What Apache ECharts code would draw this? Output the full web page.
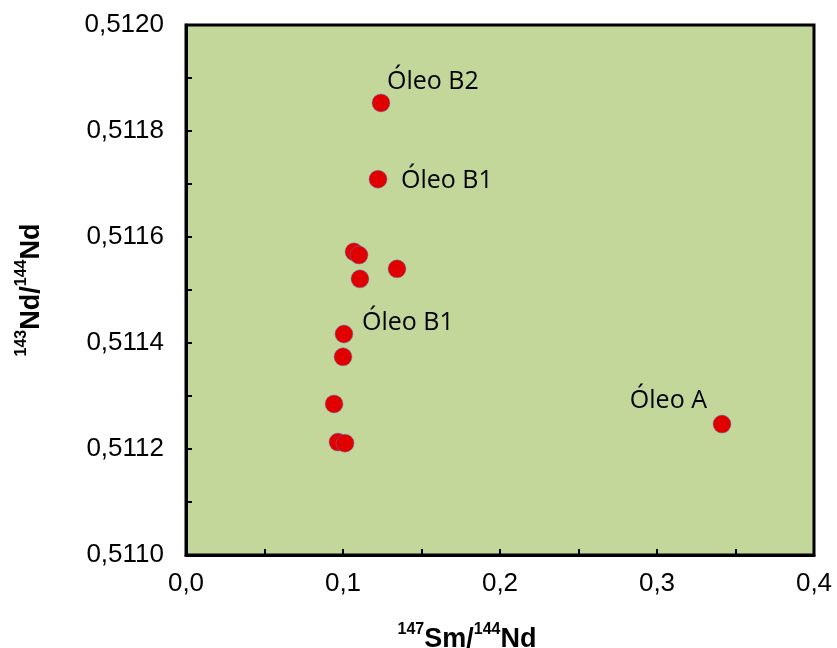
<!DOCTYPE html>
<html>
<head>
<meta charset="utf-8">
<script src="https://cdn.jsdelivr.net/npm/echarts@6/dist/echarts.min.js"></script>
<style>
  html, body { margin: 0; padding: 0; background: #fff; }
  #chart { width: 837px; height: 648px; }
</style>
</head>
<body>
<div id="chart"></div>
<script>
// 147Sm/144Nd vs 143Nd/144Nd
const smNd = [0.1242, 0.1223, 0.1070, 0.1102, 0.1108, 0.1344, 0.1006, 0.1000, 0.0943, 0.0968, 0.1013, 0.3414];
const ndNd = [0.511853, 0.511709, 0.511572, 0.511566, 0.511521, 0.511540, 0.511417, 0.511374, 0.511285, 0.511213, 0.511211, 0.511247];
const pointNames = ["Óleo B2", "Óleo B1", "", "", "", "", "Óleo B1", "", "", "", "", "Óleo A"];

const xTicks = [0.0, 0.1, 0.2, 0.3, 0.4];
const yTicks = [0.5110, 0.5112, 0.5114, 0.5116, 0.5118, 0.5120];

// where each label sits next to its point
const labelPlace = {
  0: { align: "left", offset: [6, -21] },
  1: { align: "left", offset: [23, 2] },
  6: { align: "left", offset: [18, -11] },
  11: { align: "right", offset: [-15, -23] }
};

const chart = echarts.init(document.getElementById("chart"));

const points = smNd.map((x, i) => {
  const item = { value: [x, ndNd[i]], name: pointNames[i] };
  if (labelPlace[i]) {
    item.label = {
      show: true,
      position: "inside",
      align: labelPlace[i].align,
      verticalAlign: "middle",
      offset: labelPlace[i].offset,
      formatter: "{b}",
      color: "#000",
      fontFamily: "Open Sans",
      fontSize: 25
    };
  }
  return item;
});

const nameRich = {
  sup: { fontSize: 16, fontWeight: "bold", fontFamily: "Liberation Sans", color: "#000", verticalAlign: "top", lineHeight: 31 },
  main: { fontSize: 27, fontWeight: "bold", fontFamily: "Liberation Sans", color: "#000", verticalAlign: "bottom", lineHeight: 31 }
};

chart.setOption({
  animation: false,
  grid: {
    left: 186,
    right: 23,
    top: 25,
    bottom: 93,
    outerBoundsMode: "none",
    show: true,
    backgroundColor: "#C4D79B",
    borderColor: "#000",
    borderWidth: 3
  },
  xAxis: {
    type: "value",
    min: xTicks[0],
    max: xTicks[xTicks.length - 1],
    interval: 0.1,
    name: "{sup|147}{main|Sm/}{sup|144}{main|Nd}",
    nameLocation: "middle",
    nameGap: 67,
    nameTextStyle: { rich: nameRich, padding: [0, 66, 0, 0] },
    axisLine: { show: true, lineStyle: { color: "#000", width: 3 } },
    axisTick: { show: true, inside: true, length: 6, lineStyle: { color: "#000", width: 2 } },
    minorTick: { show: true, splitNumber: 2, length: 6, lineStyle: { color: "#000", width: 2 } },
    splitLine: { show: false },
    axisLabel: {
      margin: 16,
      color: "#000",
      fontFamily: "Liberation Sans",
      fontSize: 26,
      formatter: v => v.toFixed(1).replace(".", ",")
    }
  },
  yAxis: {
    type: "value",
    min: yTicks[0],
    max: yTicks[yTicks.length - 1],
    interval: 0.0002,
    name: "{sup|143}{main|Nd/}{sup|144}{main|Nd}",
    nameLocation: "middle",
    nameGap: 141,
    nameRotate: 90,
    nameTextStyle: { rich: nameRich },
    axisLine: { show: true, lineStyle: { color: "#000", width: 3 } },
    axisTick: { show: true, inside: true, length: 6, lineStyle: { color: "#000", width: 2 } },
    minorTick: { show: true, splitNumber: 2, length: 6, lineStyle: { color: "#000", width: 2 } },
    splitLine: { show: false },
    axisLabel: {
      margin: 22,
      color: "#000",
      fontFamily: "Liberation Sans",
      fontSize: 26,
      formatter: v => v.toFixed(4).replace(".", ",")
    }
  },
  series: [
    {
      type: "scatter",
      symbol: "circle",
      symbolSize: 18,
      itemStyle: {
        color: "#E00000",
        opacity: 1,
        borderColor: "rgba(90,120,200,0.6)",
        borderWidth: 0.8
      },
      data: points
    }
  ]
});
</script>
</body>
</html>
